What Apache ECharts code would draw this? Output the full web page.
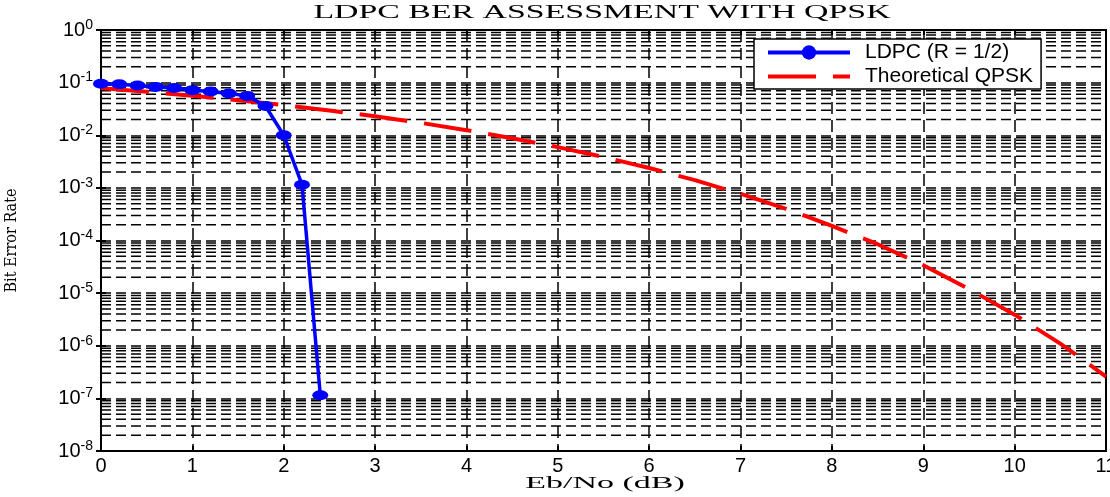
<!DOCTYPE html>
<html>
<head>
<meta charset="utf-8">
<script src="https://cdn.jsdelivr.net/npm/echarts@6/dist/echarts.min.js"></script>
<style>html,body{margin:0;padding:0;background:#fff}#c{width:1110px;height:497px}</style>
</head>
<body>
<div id="c"></div>
<script>
const ldpcX = [0, 0.2, 0.4, 0.6, 0.8, 1.0, 1.2, 1.4, 1.6, 1.8, 2.0, 2.2, 2.4];
const ldpcBER = [0.095, 0.093, 0.088, 0.083, 0.079, 0.072, 0.068, 0.062, 0.056, 0.036, 0.0100, 0.00115, 1.15e-7];
const qpskX = [0, 0.5, 1, 1.5, 2, 2.5, 3, 3.5, 4, 4.5, 5, 5.5, 6, 6.5, 7, 7.5, 8, 8.5, 9, 9.5, 10, 10.5, 11];
const qpskBER = [0.0786, 0.0671, 0.0563, 0.0462, 0.0375, 0.0296, 0.0229, 0.0172, 0.0125, 0.0088, 0.00595, 0.00387, 0.00239, 0.00140, 7.7e-4, 4.0e-4, 1.9e-4, 8.5e-5, 3.4e-5, 1.2e-5, 3.9e-6, 1.1e-6, 2.6e-7];
const xTicks = [0,1,2,3,4,5,6,7,8,9,10,11];
const decades = [-8,-7,-6,-5,-4,-3,-2,-1];
const minorMult = [2,3,4,5,6,7,8,9];
const titleText = 'LDPC BER ASSESSMENT WITH QPSK';
const xName = 'Eb/No (dB)';
const yName = 'Bit Error Rate';

const minorVals = [];
decades.forEach(d => minorMult.forEach(m => minorVals.push([0, m * Math.pow(10, d)])));

const chart = echarts.init(document.getElementById('c'), null, {renderer: 'canvas'});
const labelFont = 'Liberation Sans, Arial';
chart.setOption({
  animation: false,
  backgroundColor: '#fff',
  graphic: [
    {type: 'text', x: 602, y: 13, scaleX: 1.88, z: 10,
     style: {text: titleText, font: '18px "Liberation Serif", "Times New Roman", serif', fill: '#000', align: 'center', verticalAlign: 'middle'}},
    {type: 'text', x: 605, y: 484, scaleX: 2.0, z: 10,
     style: {text: xName, font: '17px "Liberation Serif", "Times New Roman", serif', fill: '#000', align: 'center', verticalAlign: 'middle'}}
  ],
  grid: {left: 101, right: 4, top: 30, bottom: 46, containLabel: false, outerBoundsMode: 'none',
         show: true, borderColor: '#000', borderWidth: 2, backgroundColor: 'transparent'},
  legend: {
    left: 754, top: 39, orient: 'vertical', z: 20,
    backgroundColor: '#fff', borderColor: '#000', borderWidth: 1.5, borderRadius: 0,
    padding: [3, 8, 2, 12], itemGap: 3, itemWidth: 82, itemHeight: 18,
    textStyle: {fontFamily: labelFont, fontSize: 21, color: '#000', padding: [0, 0, 0, 10], width: 226},
    data: [
      {name: 'LDPC (R = 1/2)', lineStyle: {width: 4}},
      {name: 'Theoretical QPSK', itemStyle: {opacity: 0}, lineStyle: {width: 4, type: [48, 17]}}
    ]
  },
  xAxis: [{
    type: 'value', min: 0, max: 11, interval: 1,
    axisLine: {show: true, lineStyle: {color: '#000', width: 2}},
    axisTick: {show: true, inside: true, length: 5, lineStyle: {color: '#000', width: 2}},
    axisLabel: {color: '#000', fontFamily: labelFont, fontSize: 20, margin: 5, formatter: v => xTicks.includes(v) ? String(v) : ''},
    splitLine: {show: true, lineStyle: {color: '#000', type: [12, 6], width: 1.5}}
  }, {
    type: 'value', min: 0, max: 11, interval: 1, position: 'top',
    axisLine: {show: true, lineStyle: {color: '#000', width: 2}},
    axisTick: {show: true, inside: true, length: 5, lineStyle: {color: '#000', width: 2}},
    axisLabel: {show: false}, splitLine: {show: false}
  }],
  yAxis: [{
    type: 'log', logBase: 10, min: 1e-8, max: 1, interval: 1,
    name: yName, nameLocation: 'middle', nameGap: 81, nameRotate: 90,
    nameTextStyle: {fontFamily: 'DejaVu Serif Condensed, DejaVu Serif', fontSize: 16, color: '#000'},
    axisLine: {show: true, lineStyle: {color: '#000', width: 2}},
    axisTick: {show: true, inside: true, length: 5, lineStyle: {color: '#000', width: 2}},
    axisLabel: {
      formatter: v => '10{s|' + Math.round(Math.log10(v)) + '}',
      color: '#000', fontFamily: labelFont, fontSize: 20, margin: 8,
      rich: { s: { fontSize: 14, fontFamily: labelFont, color: '#000', padding: [0, 0, 10, 0] } }
    },
    splitLine: {show: true, lineStyle: {color: '#000', type: [10, 5], width: 1.5}}
  }, {
    type: 'log', logBase: 10, min: 1e-8, max: 1, interval: 1, position: 'right',
    axisLine: {show: true, lineStyle: {color: '#000', width: 2}},
    axisTick: {show: true, inside: true, length: 5, lineStyle: {color: '#000', width: 2}},
    axisLabel: {show: false}, splitLine: {show: false}
  }],
  series: [{
    name: 'LDPC (R = 1/2)', type: 'line', z: 5,
    data: ldpcX.map((x, i) => [x, ldpcBER[i]]),
    symbol: 'circle', symbolSize: [16, 10], showSymbol: true,
    lineStyle: {color: '#0000ff', width: 3.5},
    itemStyle: {color: '#0000ff'},
    color: '#0000ff'
  }, {
    name: 'Theoretical QPSK', type: 'line', z: 4,
    data: qpskX.map((x, i) => [x, qpskBER[i]]),
    symbol: 'none', showSymbol: false,
    lineStyle: {color: '#ff0000', width: 4, type: [48, 17]},
    itemStyle: {color: '#ff0000'},
    color: '#ff0000'
  }, {
    name: 'minor grid', type: 'custom', z: 1, silent: true,
    data: minorVals,
    encode: {x: 0, y: 1},
    renderItem: (params, api) => {
      const v = api.value(1);
      const p1 = api.coord([0, v]);
      const p2 = api.coord([11, v]);
      return {type: 'line', shape: {x1: p1[0], y1: p1[1], x2: p2[0], y2: p2[1]},
              style: {stroke: '#000', lineWidth: 1.5, lineDash: [10, 5]}};
    }
  }]
});
</script>
</body>
</html>
